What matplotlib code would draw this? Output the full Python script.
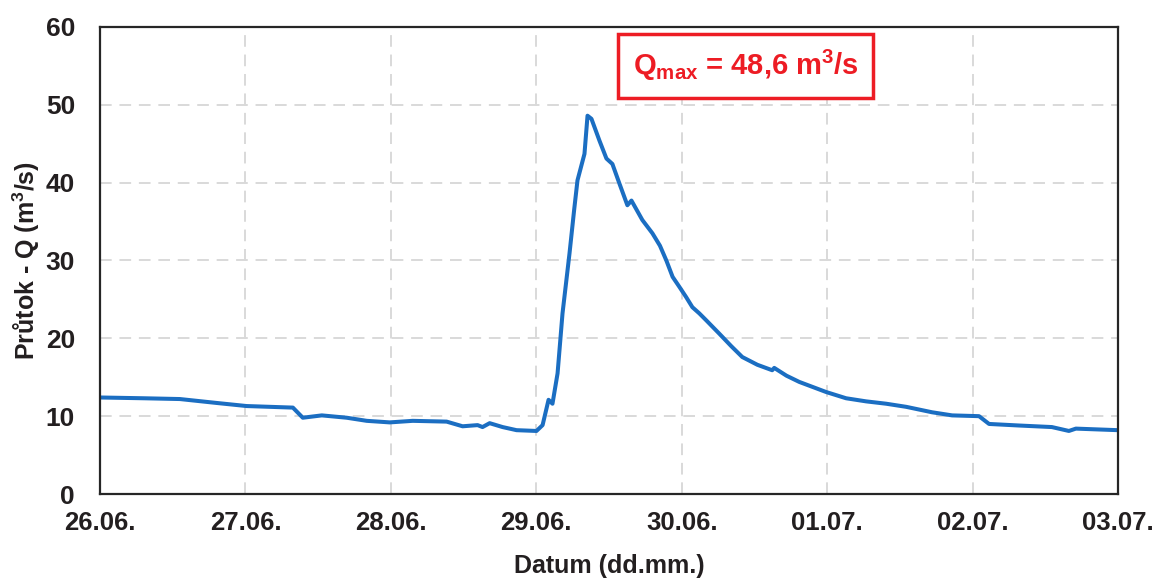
import matplotlib
matplotlib.use("Agg")
import matplotlib.pyplot as plt

# time in days since 26.06. 00:00, discharge in m3/s
days = [0.000, 0.300, 0.549, 0.800, 1.008, 1.326, 1.394, 1.525, 1.696, 1.834,
        1.992, 2.150, 2.383, 2.493, 2.596, 2.630, 2.679, 2.768, 2.864, 3.001,
        3.043, 3.084, 3.111, 3.146, 3.180, 3.228, 3.260, 3.283, 3.331, 3.352,
        3.379, 3.434, 3.482, 3.523, 3.571, 3.626, 3.654, 3.729, 3.798, 3.850,
        3.894, 3.937, 3.984, 4.030, 4.073, 4.121, 4.169, 4.258, 4.340, 4.416,
        4.520, 4.622, 4.636, 4.720, 4.808, 4.993, 5.130, 5.268, 5.405, 5.543,
        5.721, 5.859, 6.044, 6.113, 6.319, 6.545, 6.662, 6.710, 7.000]
flow = [12.4, 12.3, 12.2, 11.7, 11.3, 11.1, 9.8, 10.1, 9.8, 9.4,
        9.2, 9.4, 9.3, 8.7, 8.85, 8.6, 9.1, 8.6, 8.2, 8.1,
        8.85, 12.1, 11.6, 15.5, 23.2, 30.9, 36.5, 40.3, 43.7, 48.6,
        48.2, 45.4, 43.1, 42.4, 39.9, 37.1, 37.7, 35.2, 33.5, 31.9,
        30.0, 27.9, 26.6, 25.3, 24.0, 23.2, 22.3, 20.6, 19.0, 17.6,
        16.6, 15.9, 16.2, 15.2, 14.4, 13.1, 12.3, 11.9, 11.6, 11.2,
        10.5, 10.1, 10.0, 9.0, 8.8, 8.6, 8.1, 8.4, 8.2]

tick_labels = ["26.06.", "27.06.", "28.06.", "29.06.", "30.06.",
               "01.07.", "02.07.", "03.07."]
q_max = "48,6"


def main():
    plt.rcParams["font.family"] = ["Liberation Sans", "DejaVu Sans"]
    plt.rcParams["font.weight"] = "bold"
    plt.rcParams["mathtext.fontset"] = "custom"
    plt.rcParams["mathtext.rm"] = "Liberation Sans:bold"
    plt.rcParams["mathtext.bf"] = "Liberation Sans:bold"
    plt.rcParams["mathtext.default"] = "bf"

    fig = plt.figure(figsize=(11.58, 5.79), dpi=100)
    ax = fig.add_axes([0.0864, 0.1468, 0.8791, 0.8066])

    ax.plot(days, flow, color="#1b6ec2", linewidth=2.9,
            solid_joinstyle="round", solid_capstyle="round")

    ax.set_xlim(0, 7)
    ax.set_ylim(0, 60)
    ax.set_xticks(range(len(tick_labels)))
    ax.set_xticklabels(tick_labels)
    ax.set_yticks(range(0, 61, 10))

    ax.grid(True, color="#d9d9d9", linestyle=(0, (6, 4)), linewidth=1.4)
    ax.set_axisbelow(True)
    for s in ax.spines.values():
        s.set_color("#262626")
        s.set_linewidth(1.6)

    ax.tick_params(axis="x", length=0, pad=12, labelsize=18.5, colors="#231f20")
    ax.tick_params(axis="y", length=0, pad=18, labelsize=19, colors="#231f20")

    ax.set_xlabel("Datum (dd.mm.)", fontsize=18, fontweight="bold",
                  color="#231f20", labelpad=14)
    ax.set_ylabel("Průtok - Q (m$^{3}$/s)", fontsize=18, fontweight="bold",
                  color="#231f20", labelpad=3)

    ax.text(4.44, 55.0, "Q$_{max}$ = " + q_max + " m$^{3}$/s",
            ha="center", va="center", fontsize=21, fontweight="bold",
            color="#ed1c24",
            bbox=dict(boxstyle="square,pad=0.5", facecolor="white",
                      edgecolor="#ed1c24", linewidth=2.5))

    fig.savefig("out.png", dpi=100)
    plt.close(fig)


if __name__ == "__main__":
    main()
